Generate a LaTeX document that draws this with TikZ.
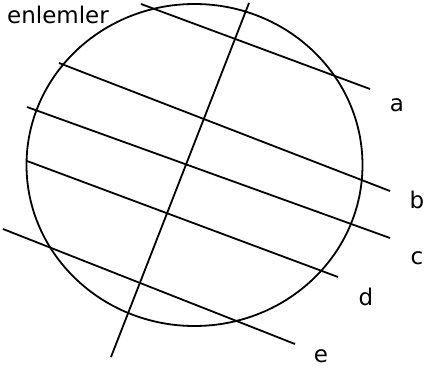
\documentclass[tikz,border=0pt]{standalone}
\usepackage{fontspec}
\setmainfont{DejaVu Sans}
\usetikzlibrary{positioning}
\definecolor{ink}{HTML}{000000}
\tikzset{
  every node/.style={font=\fontsize{23}{27}\selectfont,text=ink,inner sep=0},
  stroke/.style={draw=ink,line width=1.8pt,line cap=butt},
  tag/.style={anchor=center}
}
\begin{document}
\begin{tikzpicture}[x=1pt,y=-1pt]
  \path[use as bounding box] (0,0) rectangle (425,371);
  \node[tag] (title) at (58,15) {enlemler};

  % globe and meridian
  \draw[stroke] (194.5,165) ellipse [x radius=168pt,y radius=161pt];
  \coordinate (mtop) at (249,3);
  \coordinate (mbot) at (111,357);
  \draw[stroke] (mtop) -- (mbot);

  % parallels
  \foreach \n/\x/\y/\u/\v in {a/141/4/370/89, b/59/63/390/191, c/27/107/390/238, d/27/161/338/277, e/3/229/295/344} {
    \coordinate (\n0) at (\x,\y);
    \coordinate (\n1) at (\u,\v);
    \draw[stroke] (\n0) -- (\n1);
  }

  \node[tag] (la) at (397,105) {a};
  \node[tag] (lb) at (417,200) {b};
  \node[tag] (lc) at (417,258) {c};
  \node[tag] (ld) at (366,297) {d};
  \node[tag] (le) at (321,356) {e};
\end{tikzpicture}
\end{document}
